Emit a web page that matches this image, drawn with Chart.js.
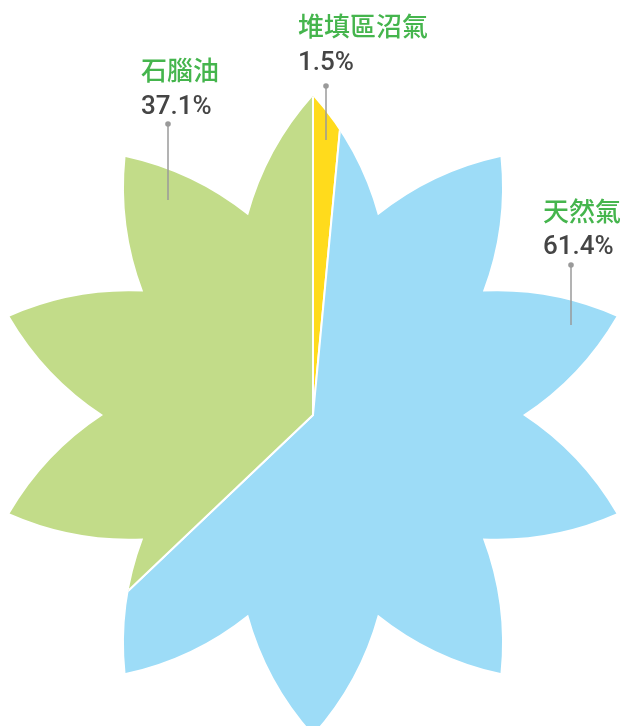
<!DOCTYPE html>
<html><head><meta charset="utf-8">
<style>html,body{margin:0;padding:0;background:#fff;overflow:hidden;width:623px;height:726px}#wrap{position:absolute;left:-17px;top:0;width:660px;height:745px}</style>
<script src="https://cdn.jsdelivr.net/npm/chart.js@4/dist/chart.umd.min.js"></script>
</head><body><div id="wrap"><canvas id="c"></canvas></div>
<script>
// ---- data ----
const categories = ['堆填區沼氣', '天然氣', '石腦油'];
const shares = [1.5, 61.4, 37.1];
const pctLabels = ['1.5%', '61.4%', '37.1%'];
const sliceColors = ['#FFDB1C', '#9DDCF7', '#C2DC89'];

// ---- layout (positions / styles only, page coordinates) ----
const labelLayout = [
  {lineX: 326, dotY: 86, lineBottom: 140, textX: 298, nameY: 26, pctBase: 69.5},
  {lineX: 571, dotY: 265, lineBottom: 325, textX: 543, nameY: 211, pctBase: 254},
  {lineX: 168, dotY: 124, lineBottom: 200, textX: 141, nameY: 70, pctBase: 114}
];
const petals = 10, tipR = 319, notchR = 210, bulge = 8;

const flowerClip = {
  id: 'flowerClip',
  beforeDatasetsDraw(chart) {
    const arc = chart.getDatasetMeta(0).data[0];
    const cx = arc.x, cy = arc.y, ctx = chart.ctx;
    const pt = (b, r) => [cx + r * Math.sin(b), cy - r * Math.cos(b)];
    const pts = [];
    for (let i = 0; i < petals; i++) {
      const b = i * 2 * Math.PI / petals;
      pts.push(pt(b, tipR));
      pts.push(pt(b + Math.PI / petals, notchR));
    }
    ctx.save();
    ctx.beginPath();
    ctx.moveTo(pts[0][0], pts[0][1]);
    for (let i = 0; i < pts.length; i++) {
      const A = pts[i], B = pts[(i + 1) % pts.length];
      const dx = B[0] - A[0], dy = B[1] - A[1], L = Math.hypot(dx, dy);
      const mx = (A[0] + B[0]) / 2, my = (A[1] + B[1]) / 2;
      let nx = dy / L, ny = -dx / L;
      if (nx * (mx - cx) + ny * (my - cy) < 0) { nx = -nx; ny = -ny; }
      ctx.quadraticCurveTo(mx + nx * 2 * bulge, my + ny * 2 * bulge, B[0], B[1]);
    }
    ctx.closePath();
    ctx.clip();
  },
  afterDatasetsDraw(chart) { chart.ctx.restore(); },
  afterDraw(chart) {
    const ctx = chart.ctx;
    const rect = chart.canvas.getBoundingClientRect();
    ctx.save();
    ctx.translate(-rect.left, -rect.top);
    categories.forEach((name, i) => {
      const L = labelLayout[i];
      ctx.strokeStyle = '#9a9a9a';
      ctx.lineWidth = 1.5;
      ctx.beginPath();
      ctx.moveTo(L.lineX, L.dotY);
      ctx.lineTo(L.lineX, L.lineBottom);
      ctx.stroke();
      ctx.fillStyle = '#9a9a9a';
      ctx.beginPath();
      ctx.arc(L.lineX, L.dotY, 2.8, 0, Math.PI * 2);
      ctx.fill();
      ctx.textAlign = 'left';
      ctx.fillStyle = '#45B54D';
      ctx.font = '500 26px "Noto Sans CJK TC"';
      ctx.textBaseline = 'middle';
      ctx.fillText(name, L.textX, L.nameY);
      ctx.fillStyle = '#454545';
      ctx.font = '500 26px Roboto';
      ctx.textBaseline = 'alphabetic';
      ctx.fillText(pctLabels[i], L.textX, L.pctBase);
    });
    ctx.restore();
  }
};

new Chart(document.getElementById('c'), {
  type: 'pie',
  data: {
    labels: categories,
    datasets: [{
      data: shares,
      backgroundColor: sliceColors,
      borderColor: '#ffffff',
      borderWidth: 2,
      clip: false
    }]
  },
  options: {
    responsive: true,
    maintainAspectRatio: false,
    animation: false,
    events: [],
    layout: {padding: {left: 0, right: 0, top: 85, bottom: 0}, autoPadding: false},
    plugins: {legend: {display: false}, tooltip: {enabled: false}}
  },
  plugins: [flowerClip]
});
</script></body></html>
